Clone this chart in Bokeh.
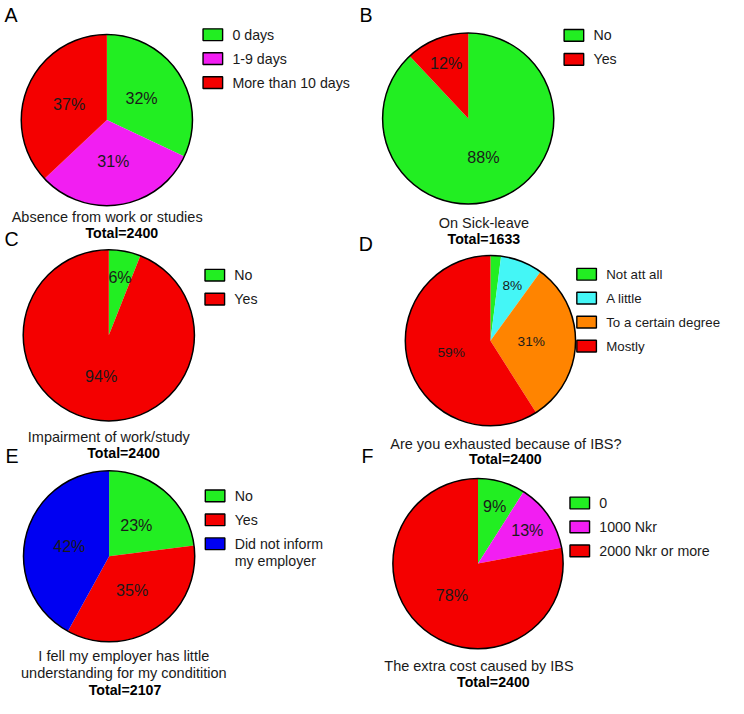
import numpy as np
from bokeh.plotting import figure
from bokeh.models import Range1d
from bokeh.core.properties import value
from bokeh.embed import file_html
from bokeh.resources import INLINE

# ---- data (percent of respondents) ----
a_labels = ["0 days", "1-9 days", "More than 10 days"]
a_values = [32, 31, 37]
b_labels = ["No", "Yes"]
b_values = [88, 12]
c_labels = ["No", "Yes"]
c_values = [6, 94]
d_labels = ["Not att all", "A little", "To a certain degree", "Mostly"]
d_values = [2, 8, 31, 59]
e_labels = ["No", "Yes", "Did not inform\nmy employer"]
e_values = [23, 35, 42]
f_labels = ["0", "1000 Nkr", "2000 Nkr or more"]
f_values = [9, 13, 78]

titles = {
    "A": ["Absence from work or studies"],
    "B": ["On Sick-leave"],
    "C": ["Impairment of work/study"],
    "D": ["Are you exhausted because of IBS?"],
    "E": ["I fell my employer has little", "understanding for my conditition"],
    "F": ["The extra cost caused by IBS"],
}
totals = {"A": 2400, "B": 1633, "C": 2400, "D": 2400, "E": 2107, "F": 2400}

GREEN = "#22ee22"
RED = "#f40000"
MAGENTA = "#f21ef2"
BLUE = "#0000f2"
CYAN = "#44f6f6"
ORANGE = "#ff8400"

W, H = 744, 714          # reference units
PW, PH = 728, 698        # canvas pixels
k = PW / W
FONT = value("Liberation Sans")
TXT = "#1a1a1a"

p = figure(width=PW, height=PH, x_range=Range1d(0, W), y_range=Range1d(0, H),
           output_backend="svg", toolbar_location=None, min_border=0,
           x_axis_location=None, y_axis_location=None)
p.grid.visible = False
p.outline_line_color = None


def fs(px):
    return "%.1fpx" % (px * k)


def pie(letter, labels, values, colors, cx, cy, r, leg, title_pos, total_pos,
        letter_pos, label_size=16.5, legend_size=14.5):
    y0 = H - cy
    fr = np.array(values, dtype=float)
    fr = fr / fr.sum()
    cum = np.concatenate([[0], np.cumsum(fr)])
    # clockwise from 12 o'clock
    start = np.pi / 2 - 2 * np.pi * cum[1:]
    end = np.pi / 2 - 2 * np.pi * cum[:-1]
    p.wedge(x=cx, y=y0, radius=r, start_angle=list(start), end_angle=list(end),
            fill_color=colors, line_color=None)
    p.circle(x=cx, y=y0, radius=r, fill_color=None, line_color="black", line_width=1.5)

    mid = (cum[:-1] + cum[1:]) / 2
    ang = np.pi / 2 - 2 * np.pi * mid
    dist = np.where(fr < 0.15, 0.70, 0.48) * r
    keep = fr >= 0.05
    lx = (cx + dist * np.cos(ang))[keep]
    ly = (y0 + dist * np.sin(ang))[keep]
    txt = ["%d%%" % v for v, kk in zip(values, keep) if kk]
    p.text(x=list(lx), y=list(ly), text=txt, text_align="center", text_baseline="middle",
           text_font=FONT, text_font_size=fs(label_size), text_color=TXT)

    # legend
    lx0, ly0 = leg
    row = 0
    for lab, col in zip(labels, colors):
        yy = H - (ly0 + 24.5 * row)
        p.rect(x=lx0 + 10, y=yy, width=20, height=12, fill_color=col,
               line_color="black", line_width=1.4)
        for j, part in enumerate(lab.split("\n")):
            p.text(x=[lx0 + 30], y=[yy - 17.5 * j], text=[part], text_align="left",
                   text_baseline="middle", text_font=FONT, text_font_size=fs(legend_size),
                   text_color=TXT)
        row += 1

    # title lines and total
    tx, ty = title_pos
    for j, line in enumerate(titles[letter]):
        p.text(x=[tx], y=[H - ty - 17.3 * j], text=[line], text_align="center",
               text_baseline="middle", text_font=FONT, text_font_size=fs(14.8),
               text_color=TXT)
    p.text(x=[total_pos[0]], y=[H - total_pos[1]], text=["Total=%d" % totals[letter]],
           text_align="center", text_baseline="middle", text_font=FONT,
           text_font_size=fs(14.5), text_font_style="bold", text_color="black")

    p.text(x=[letter_pos[0]], y=[H - letter_pos[1]], text=[letter], text_align="left",
           text_baseline="middle", text_font=FONT, text_font_size=fs(20),
           text_color="black")


pie("A", a_labels, a_values, [GREEN, MAGENTA, RED], 108.7, 122.3, 87.5,
    (207, 35), (109, 221), (124, 237.5), (4, 15))
pie("B", b_labels, b_values, [GREEN, RED], 478, 120.7, 87.5,
    (576, 35.7), (494, 227.5), (494, 244), (367, 15))
pie("C", c_labels, c_values, [GREEN, RED], 110.7, 342.5, 87.5,
    (209, 281), (110.7, 447), (125.8, 463), (4, 244))
pie("D", d_labels, d_values, [GREEN, CYAN, ORANGE, RED], 500.7, 348, 87,
    (589, 280), (516.5, 454), (516, 469), (366, 249.5), label_size=14,
    legend_size=13.6)
pie("E", e_labels, e_values, [GREEN, RED, BLUE], 111, 568.5, 87.5,
    (209.3, 506.7), (126, 671), (127.3, 705.7), (5, 466))
pie("F", f_labels, f_values, [GREEN, MAGENTA, RED], 488, 576, 87,
    (582, 514), (489, 680.7), (503.7, 696.7), (369, 466))

open("out.html", "w").write(file_html(p, INLINE))
